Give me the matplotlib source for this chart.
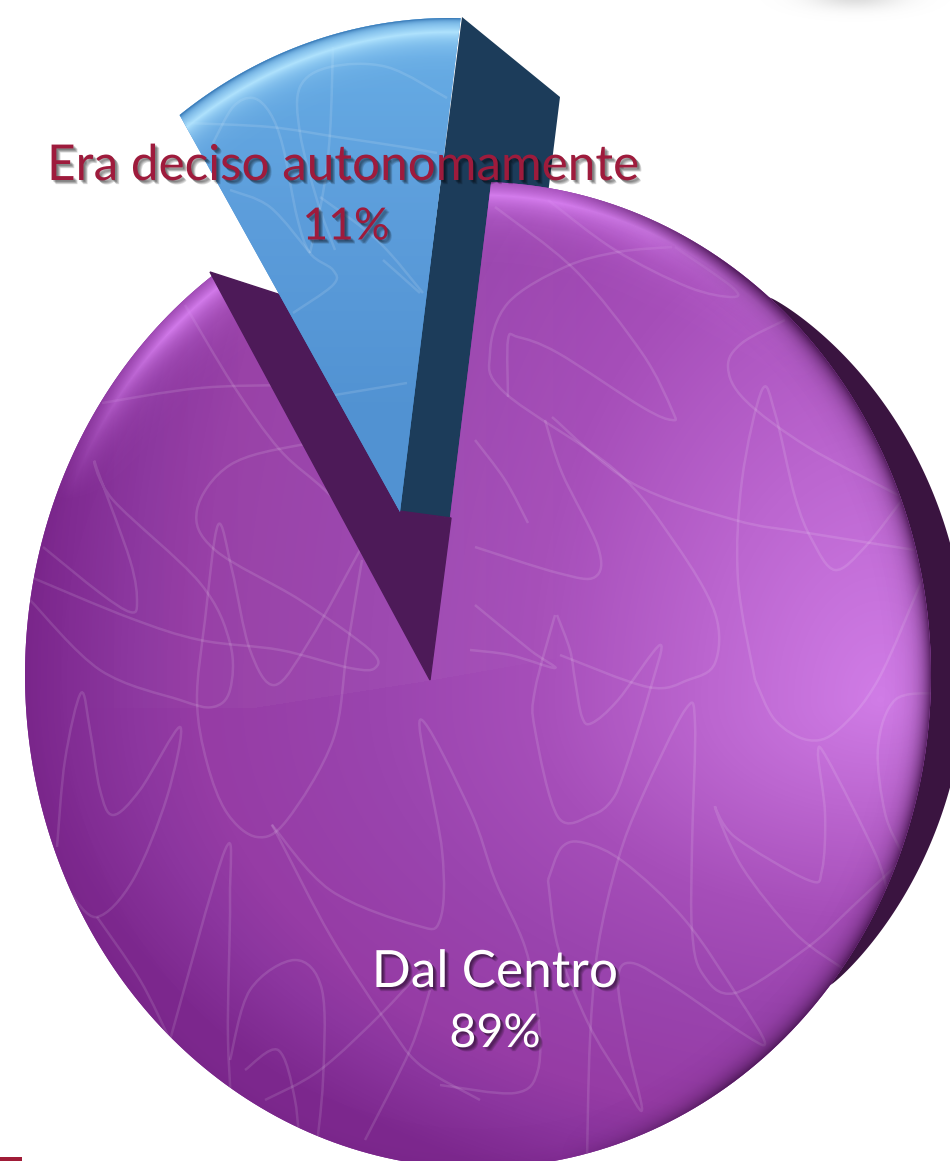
import numpy as np
import matplotlib
matplotlib.use("Agg")
import matplotlib.pyplot as plt
import matplotlib.patheffects as pe
from matplotlib.colors import LinearSegmentedColormap, to_rgb
from matplotlib.patches import Polygon, PathPatch
from matplotlib.path import Path

labels = ["Dal Centro", "Era deciso autonomamente"]
shares = [89, 11]
W, H = 950, 1161
START = 83.0  # where the small slice begins, degrees

# scribbles on the slices, traced by eye
big_scribbles = [
    [(102, 403), (200, 388), (300, 385), (407, 385)],
    [(185, 305), (233, 385), (280, 450), (330, 495), (400, 570)],
    [(43, 547), (100, 593), (130, 612), (137, 603), (130, 560), (95, 463), (113, 500), (200, 583), (230, 643), (230, 690), (213, 707), (180, 700), (100, 670), (30, 600)],
    [(33, 578), (130, 618), (200, 640), (280, 650), (350, 668), (375, 668), (370, 650), (300, 600), (215, 550), (197, 510), (230, 465), (300, 445), (390, 435)],
    [(362, 560), (347, 650), (333, 740), (287, 820), (257, 837), (227, 813), (207, 763), (197, 700), (205, 620), (218, 525), (232, 570), (250, 650), (275, 685), (310, 640), (360, 550)],
    [(57, 847), (65, 760), (81, 693), (90, 730), (100, 790), (113, 815), (140, 790), (180, 727), (167, 797), (133, 880), (97, 917), (70, 893)],
    [(97, 917), (140, 980), (170, 1040)],
    [(170, 1040), (225, 850), (230, 900), (228, 1040), (235, 1150)],
    [(272, 825), (330, 890), (415, 925), (440, 920), (442, 850), (420, 720), (470, 810), (495, 880), (525, 947), (538, 1013), (538, 1070), (515, 1093), (440, 1085)],
    [(272, 825), (280, 840), (330, 935), (385, 1020), (420, 1065), (480, 1100)],
    [(230, 1060), (250, 990), (295, 960), (322, 990), (323, 1080), (315, 1161)],
    [(245, 1070), (278, 1050), (295, 1100), (300, 1161)],
    [(265, 1100), (320, 1070), (385, 1010), (430, 960)],
    [(365, 1140), (410, 1050), (430, 990)],
    [(557, 615), (570, 650), (575, 680), (582, 717), (592, 723), (618, 700), (660, 645), (650, 690), (625, 770), (612, 800), (592, 815), (558, 817), (535, 730), (535, 690), (555, 615)],
    [(587, 1160), (590, 1040), (598, 947), (618, 860), (642, 797), (685, 710), (695, 723), (692, 847), (692, 930), (702, 973), (735, 993), (808, 947), (852, 907), (902, 860)],
    [(548, 880), (562, 847), (585, 843), (625, 863), (685, 920), (738, 997), (765, 1043), (742, 1033), (675, 987), (632, 963), (618, 980), (628, 1047), (642, 1110), (622, 1080), (588, 1023), (558, 947), (548, 880)],
    [(845, 970), (795, 933), (742, 867), (715, 807), (735, 837), (808, 880), (822, 870), (825, 813), (818, 753), (828, 760), (875, 853), (888, 893)],
    [(935, 693), (895, 700), (878, 747), (885, 813), (902, 853)],
    [(755, 680), (775, 720), (808, 740), (838, 730), (878, 680), (922, 580)],
    [(755, 680), (738, 580), (742, 480), (762, 390), (775, 413), (795, 497), (812, 540), (835, 570), (865, 547), (902, 500)],
    [(785, 320), (742, 343), (728, 367), (745, 400), (808, 447), (902, 497)],
    [(552, 417), (632, 483), (735, 520), (808, 533), (915, 550)],
    [(545, 420), (562, 473), (598, 547), (595, 577), (558, 573), (475, 547)],
    [(672, 247), (618, 252), (565, 267), (508, 303), (490, 353), (505, 393), (615, 470), (675, 543), (715, 613), (715, 663), (688, 680), (648, 687), (560, 655)],
    [(528, 523), (505, 480), (475, 440)],
    [(508, 397), (508, 340), (518, 337), (558, 353), (642, 407), (672, 420), (672, 410), (642, 353), (575, 270), (495, 207)],
    [(548, 200), (615, 250), (688, 287), (732, 297), (732, 287), (675, 247)],
    [(475, 605), (530, 650), (555, 668), (510, 655), (470, 650)],
]
small_scribbles = [
    [(187, 123), (270, 127), (337, 137), (403, 147), (437, 153)],
    [(213, 143), (233, 107), (253, 98), (270, 113), (283, 147), (297, 217), (310, 253), (333, 270), (333, 285), (293, 313)],
    [(447, 98), (387, 67), (330, 67), (300, 87), (300, 133), (317, 200), (335, 250)],
    [(333, 47), (330, 133), (323, 193), (310, 253)],
    [(230, 190), (270, 207), (310, 253)],
    [(320, 197), (377, 240), (423, 293)],
    [(335, 395), (407, 383)],
    [(383, 260), (420, 293)],
]


def smooth(pts):
    # catmull-rom through the points, as bezier segments
    p = np.array(pts, float)
    p = np.vstack([p[0], p, p[-1]])
    verts = [p[1]]
    codes = [Path.MOVETO]
    for i in range(1, len(p) - 2):
        verts += [p[i] + (p[i + 1] - p[i - 1]) / 6, p[i + 1] - (p[i + 2] - p[i]) / 6, p[i + 1]]
        codes += [Path.CURVE4] * 3
    return Path(verts, codes)


def sector(apex, a0, sweep, cx, cy, rx, ry):
    # slice from apex out to the rim of an ellipse (y down in pixels)
    out = [apex]
    for a in np.radians(np.linspace(a0, a0 + sweep, 300)):
        dx, dy = np.cos(a), -np.sin(a)
        ox, oy = apex[0] - cx, apex[1] - cy
        A = (dx / rx) ** 2 + (dy / ry) ** 2
        B = 2 * (ox * dx / rx ** 2 + oy * dy / ry ** 2)
        C = (ox / rx) ** 2 + (oy / ry) ** 2 - 1
        t = (-B + np.sqrt(B * B - 4 * A * C)) / (2 * A)
        out.append((apex[0] + t * dx, apex[1] + t * dy))
    return np.array(out)


yy, xx = np.mgrid[0:H, 0:W]


def overlay(ax, color, alpha, clip, z):
    # a one colour layer with its alpha given per pixel
    rgba = np.zeros((H, W, 4))
    rgba[..., :3] = to_rgb(color)
    rgba[..., 3] = np.clip(alpha, 0, 1)
    im = ax.imshow(rgba, extent=(0, W, H, 0), zorder=z, interpolation="bilinear")
    if clip is not None:
        im.set_clip_path(clip)
    return im


def rim_depth(cx, cy, rx, ry):
    return (1 - np.hypot((xx - cx) / rx, (yy - cy) / ry)) * 0.5 * (rx + ry)


def scribble(ax, lines, clip, z):
    for p in lines:
        patch = PathPatch(smooth(p), fc="none", ec="white", alpha=0.12, lw=1.8, zorder=z)
        ax.add_patch(patch)
        patch.set_clip_path(clip)


def crescent(cx, cy, rx, ry, t0, t1, width):
    # dark side seen beyond the right rim, thickest half way between t0 and t1
    t = np.radians(np.linspace(t0, t1, 200))
    bump = np.clip(np.sin(np.pi * (t - t[0]) / (t[-1] - t[0])), 0, 1) ** 0.8 * width
    inner = np.column_stack([cx + (rx - 15) * np.cos(t), cy - (ry - 15) * np.sin(t)])
    outer = np.column_stack([cx + (rx + bump) * np.cos(t), cy - (ry + bump) * np.sin(t)])
    return np.vstack([outer, inner[::-1]])


fig = plt.figure(figsize=(W / 100, H / 100), dpi=100)
ax = fig.add_axes([0, 0, 1, 1])

small_sweep = shares[1] * 3.6 * 0.91
big_start = START - 1 + small_sweep
big_sweep = 360 - small_sweep + 1

BC = (478, 675, 453, 493)

# dark crescent behind the main face
ax.add_patch(Polygon(crescent(*BC, -39, 50, 36), closed=True, fc="#3a1440", ec="none", zorder=1))

# side of the pulled out slice goes behind the main face
ax.add_patch(Polygon([(462, 17), (560, 97), (546, 210), (510, 210), (452, 518), (398, 512)],
                     closed=True, fc="#1c3c5a", ec="none", zorder=1.5))

big = sector((430, 680), big_start, big_sweep, *BC)
big_patch = Polygon(big, closed=True, fc="#8a35a0", ec="none", zorder=2)
ax.add_patch(big_patch)

dy = yy - 700.0
d = np.hypot(xx - 880.0, np.where(dy < 0, dy * 0.7, dy * 1.6)) / 850
cm = LinearSegmentedColormap.from_list("body", [
    (0, "#d07ce6"), (0.2, "#bc66d0"), (0.41, "#a64eb9"), (0.6, "#9a44ae"),
    (0.8, "#963ca5"), (0.88, "#8c369f"), (1, "#7d288e")])
im = ax.imshow(np.clip(d, 0, 1), cmap=cm, vmin=0, vmax=1, extent=(0, W, H, 0), zorder=3, interpolation="bilinear")
im.set_clip_path(big_patch)

# slightly lighter area above the soft curve left of the apex
curve = np.interp(xx, [0, 250, 430, 600], [708, 708, 680, 650])
fade = np.clip((620 - xx) / 200, 0, 1) * np.clip((xx - 40) / 220, 0, 1)
overlay(ax, "white", 0.035 * (yy < curve) * fade, big_patch, 3.2)

scribble(ax, big_scribbles, big_patch, 4)

# rim: shiny at the top, shaded on the right and hardly at all elsewhere
depth = rim_depth(*BC)
glow = np.exp(-np.abs(depth - 12) / 16) * np.clip((500 - yy) / 170, 0, 1) * np.clip((820 - xx) / 170, 0, 1)
overlay(ax, "#e58cff", 0.85 * glow, big_patch, 5)
shade = np.exp(-np.maximum(depth, 0) / 9) * np.clip((xx - 560) / 170, 0, 1)
overlay(ax, "#38103f", 0.85 * shade, big_patch, 5)
overlay(ax, "#6a1c7a", 0.18 * np.exp(-np.maximum(depth, 0) / 10), big_patch, 5)

# inner wall of the gap
ax.add_patch(Polygon([(210, 272), (281, 295), (399, 511), (451, 518), (430, 680)],
                     closed=True, fc="#4d1a58", ec="#4d1a58", lw=1, zorder=6))

# pulled out slice
SC = (450, 509, 453, 491)
small = sector((400, 512), START, small_sweep, *SC)
small_patch = Polygon(small, closed=True, fc="#5296d5", ec="none", zorder=8)
ax.add_patch(small_patch)
d2 = np.clip((yy - 20) / 400.0, 0, 1)
cm2 = LinearSegmentedColormap.from_list("blue", ["#68aee6", "#5c9ddb", "#5192d2"])
im2 = ax.imshow(d2, cmap=cm2, vmin=0, vmax=1, extent=(0, W, H, 0), zorder=8, interpolation="bilinear")
im2.set_clip_path(small_patch)
scribble(ax, small_scribbles, small_patch, 9)
depth2 = rim_depth(*SC)
overlay(ax, "#b4e6ff", 0.95 * np.exp(-np.abs(depth2 - 13) / 11), small_patch, 10)
overlay(ax, "#2e6fae", 0.8 * np.exp(-np.maximum(depth2, 0) / 2.5), small_patch, 10)

# stray bits at the crop edge
ax.add_patch(Polygon([(0, 1157), (22, 1157), (22, 1161), (0, 1161)], closed=True, fc="#a01c38", ec="none", zorder=1))
overlay(ax, "#9a9a9a", 0.35 * np.exp(-(((xx - 855) / 45.0) ** 2 + ((yy + 4) / 12.0) ** 2)), None, 1)

ax.set_xlim(0, W)
ax.set_ylim(H, 0)
ax.set_aspect("auto")
ax.axis("off")

# labels
soft = [pe.SimplePatchShadow(offset=(o, -o), shadow_rgbFace="black", alpha=0.13) for o in (1, 1.5, 2, 2.5, 3)]
shadow = soft + [pe.Normal()]
ax.text(343, 166, labels[1], color="#9e1b3c", fontsize=35.6, family="Lato", ha="center", va="center",
        path_effects=shadow, zorder=12)
ax.text(346, 227, f"{shares[1]}%", color="#9e1b3c", fontsize=32, family="Lato", ha="center", va="center",
        path_effects=shadow, zorder=12)
ax.text(495, 973, labels[0], color="white", fontsize=37, family="Lato", ha="center", va="center",
        path_effects=shadow, zorder=12)
ax.text(495, 1034, f"{shares[0]}%", color="white", fontsize=33.5, family="Lato", ha="center", va="center",
        path_effects=shadow, zorder=12)

fig.savefig("out.png", dpi=100)
